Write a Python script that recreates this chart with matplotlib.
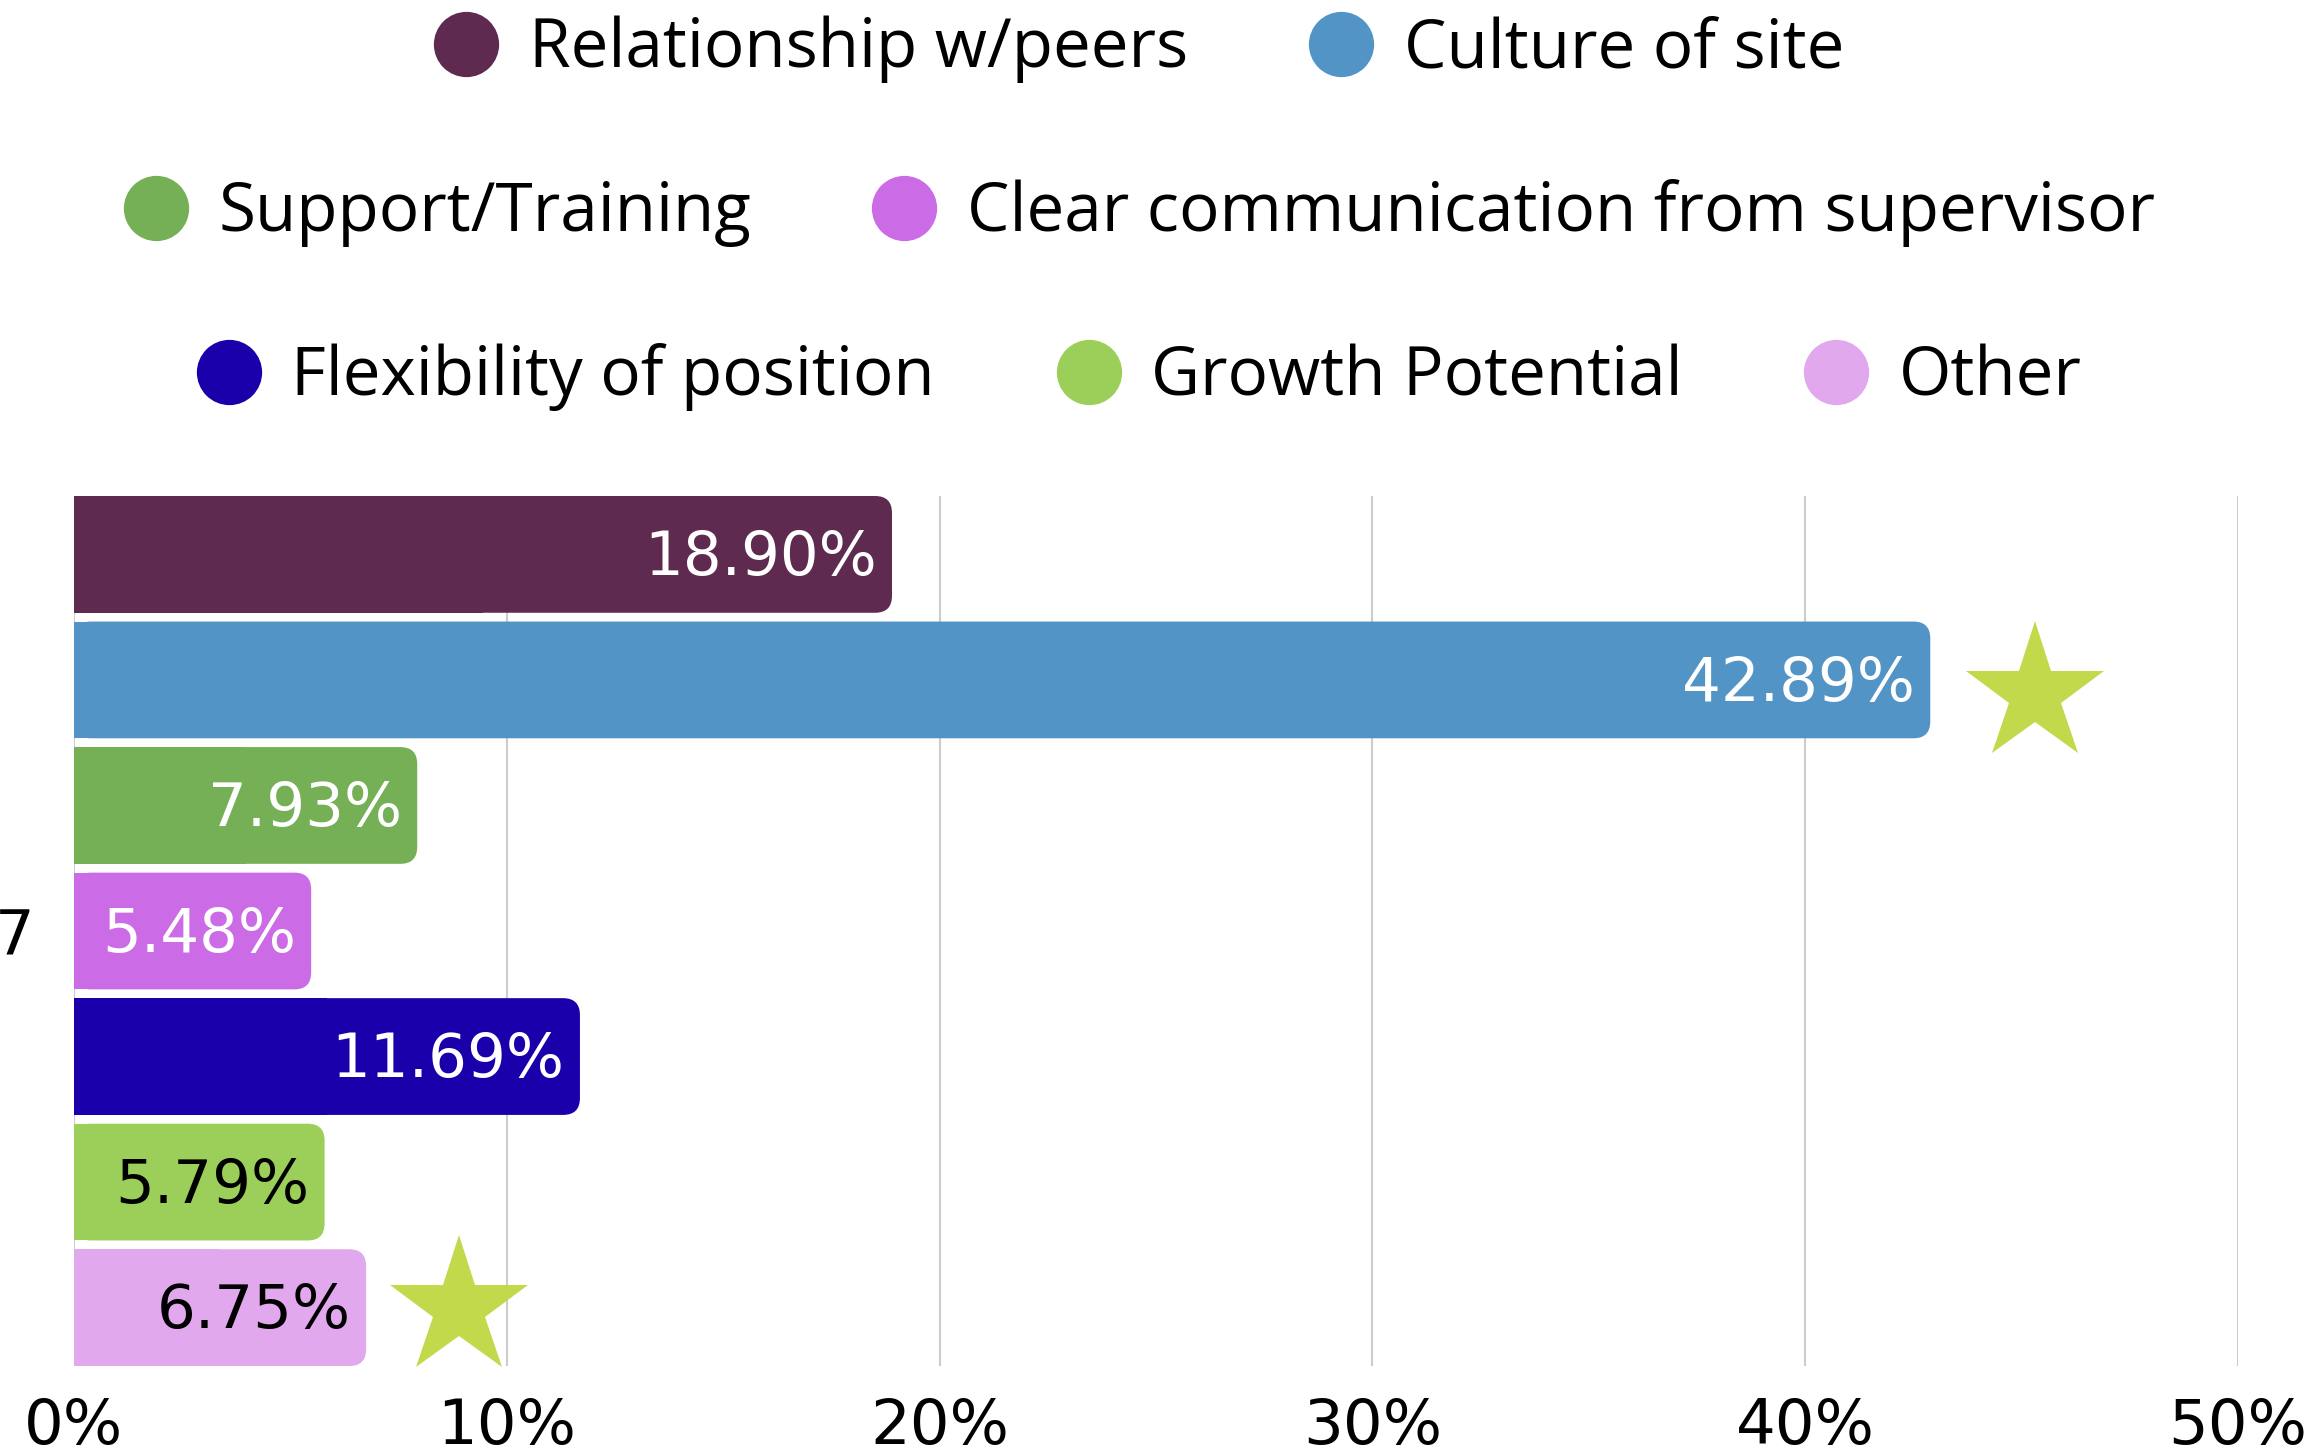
import matplotlib.pyplot as plt
import numpy as np
from matplotlib.patches import FancyBboxPatch, Rectangle

# categories and values (percent)
categories = ["Relationship w/peers", "Culture of site", "Support/Training",
              "Clear communication from supervisor", "Flexibility of position",
              "Growth Potential", "Other"]
values = [18.90, 42.89, 7.93, 5.48, 11.69, 5.79, 6.75]
colors = ["#5f2a4f", "#5394c6", "#76b056", "#cb6ce6", "#1a00aa", "#9ccf59", "#e1a8ee"]
label_colors = ["white", "white", "white", "white", "white", "black", "black"]
group_label = "7"
xticks = [0, 10, 20, 30, 40, 50]
xtick_labels = ["0%", "10%", "20%", "30%", "40%", "50%"]

# highlight stars
star_x = [45.3, 8.9]
star_y = [1.11, 6.0]
star_color = "#c1d94b"

# legend rows
legend_rows = [[0, 1], [2, 3], [4, 5, 6]]

W, H = 2316, 1456
plt.rcParams['font.family'] = ['Open Sans', 'DejaVu Sans']
num_font = ['DejaVu Sans']
fig = plt.figure(figsize=(W / 100, H / 100), dpi=100)

ax = fig.add_axes([74 / W, 1 - 1366 / H, (2238 - 74) / W, (1366 - 496) / H])
y = np.arange(len(values))
bar_h = 0.93
bars = ax.barh(y, values, height=bar_h, color=colors)

# rounded right ends
r = 0.39
asp = 0.346
for b, c in zip(bars, colors):
    x0, y0, w, h = b.get_x(), b.get_y(), b.get_width(), b.get_height()
    b.set_visible(False)
    ax.add_patch(FancyBboxPatch((x0, y0), w, h, boxstyle=f"round,pad=0,rounding_size={r}",
                                mutation_aspect=asp, fc=c, ec='none', zorder=2))
    ax.add_patch(Rectangle((x0, y0), w / 2, h, fc=c, ec='none', zorder=2))

for i, (v, lc) in enumerate(zip(values, label_colors)):
    ax.annotate(f"{v:.2f}%", (v, i), xytext=(-11, -3), textcoords='offset points',
                ha='right', va='center', color=lc, fontsize=44, family=num_font,
                zorder=3)

ax.plot(star_x, star_y, ls='none', marker='*', ms=105, mew=0, color=star_color,
        clip_on=False, zorder=3)

ax.set_xlim(0, 50)
ax.set_ylim(len(values) - 1 + bar_h / 2, -bar_h / 2)
ax.set_xticks(xticks, labels=xtick_labels, fontsize=45, family=num_font)
ax.set_yticks([3], labels=[group_label], fontsize=45, family=num_font)
ax.tick_params(axis='x', length=0, pad=22)
ax.tick_params(axis='y', length=0, pad=28)
ax.grid(axis='x', color='#cccccc', lw=1.5, zorder=0)
ax.set_axisbelow(True)
for s in ax.spines.values():
    s.set_visible(False)

# legend drawn in pixel space
lax = fig.add_axes([0, 0, 1, 1])
lax.set_xlim(0, W)
lax.set_ylim(H, 0)
lax.axis('off')
renderer = fig.canvas.get_renderer()
row_y = [44, 208, 372]
dot_d = 65
dot_gap = 30
item_gap = 121
cx_center = 1139
for ry, row in zip(row_y, legend_rows):
    texts = []
    widths = []
    for idx in row:
        t = lax.text(0, ry + 23, categories[idx], fontsize=48.5, va='baseline', ha='left')
        widths.append(t.get_window_extent(renderer).width)
        texts.append(t)
    total = sum(dot_d + dot_gap + w for w in widths) + item_gap * (len(row) - 1)
    x = cx_center - total / 2
    for idx, t, w in zip(row, texts, widths):
        lax.plot([x + dot_d / 2], [ry], marker='o', ms=47, mew=0, color=colors[idx])
        t.set_x(x + dot_d + dot_gap)
        x += dot_d + dot_gap + w + item_gap

fig.savefig("out.png", dpi=100)
